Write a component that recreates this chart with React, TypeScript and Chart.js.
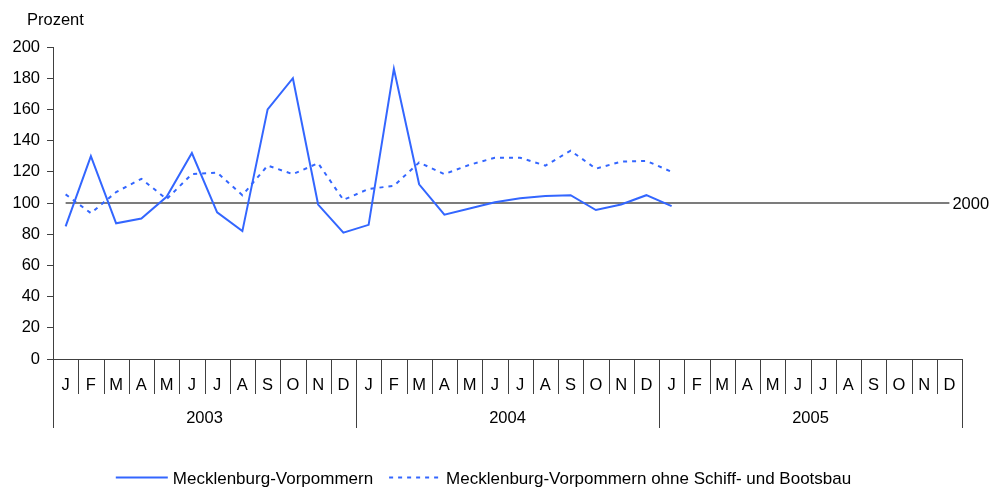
import { useEffect, useRef } from 'react';
import { Chart, registerables } from 'chart.js';

Chart.register(...registerables);

const months = ['J', 'F', 'M', 'A', 'M', 'J', 'J', 'A', 'S', 'O', 'N', 'D'];
const years = ['2003', '2004', '2005'];
const monthLabels = [...months, ...months, ...months];

const mvValues: (number | null)[] = [
  85, 130, 87, 90, 104, 132, 94, 82, 160, 180, 99, 81,
  86, 186, 112, 92.5, 96.5, 100.5, 103, 104.5, 105, 95.5, 99, 105,
  98, null, null, null, null, null, null, null, null, null, null, null,
];

const mvOhneValues: (number | null)[] = [
  105.5, 93.5, 107, 115.5, 102.5, 118.5, 119.5, 105, 124, 118.5, 125.5, 102,
  109, 111, 126, 118.5, 124.5, 129, 129, 124, 133.5, 122, 126.5, 127,
  120, null, null, null, null, null, null, null, null, null, null, null,
];

const baseValues: number[] = [
  100, 100, 100, 100, 100, 100, 100, 100, 100, 100, 100, 100,
  100, 100, 100, 100, 100, 100, 100, 100, 100, 100, 100, 100,
  100, 100, 100, 100, 100, 100, 100, 100, 100, 100, 100, 100,
];

const seriesNames = ['Mecklenburg-Vorpommern', 'Mecklenburg-Vorpommern ohne Schiff- und Bootsbau'];
const baseLabel = '2000';
const yTitle = 'Prozent';

const FONT = "'Liberation Sans', Arial, sans-serif";
const BLUE = '#3366ff';
const AXIS = '#404040';

const customPlugin = {
  id: 'customDecor',
  afterDraw(chart: any) {
    const { ctx, chartArea, scales } = chart;
    const x = scales.x;
    const y = scales.y;
    const n = monthLabels.length;
    const p0 = x.getPixelForValue(0);
    const step = x.getPixelForValue(1) - p0;
    const bottom = chartArea.bottom;
    ctx.save();
    // separators
    ctx.strokeStyle = AXIS;
    ctx.lineWidth = 1;
    for (let i = 0; i <= n; i++) {
      const px = Math.round(p0 - step / 2 + i * step) + 0.5;
      const len = i % 12 === 0 ? 69 : 35;
      ctx.beginPath();
      ctx.moveTo(px, bottom);
      ctx.lineTo(px, bottom + len);
      ctx.stroke();
    }
    // month labels
    ctx.fillStyle = '#000';
    ctx.font = `16.5px ${FONT}`;
    ctx.textAlign = 'center';
    ctx.textBaseline = 'middle';
    for (let i = 0; i < n; i++) {
      ctx.fillText(monthLabels[i], p0 + i * step, bottom + 26);
    }
    // year labels
    years.forEach((yr, k) => {
      const cx = p0 - step / 2 + (k * 12 + 6) * step;
      ctx.fillText(yr, cx, bottom + 59);
    });
    // y title
    ctx.textAlign = 'left';
    ctx.fillText(yTitle, 27, 20);
    // base label
    const lastX = x.getPixelForValue(n - 1);
    ctx.fillText(baseLabel, lastX + 3, y.getPixelForValue(100) + 1);
    // legend
    ctx.font = `17px ${FONT}`;
    const lineLen = 52;
    const gap = 5;
    const spacing = 16;
    const widths = seriesNames.map((s) => ctx.measureText(s).width);
    const total = widths.reduce((a, w) => a + lineLen + gap + w, 0) + spacing * (seriesNames.length - 1);
    let lx = chart.width / 2 - 13.5 - total / 2;
    const ly = 477.5;
    seriesNames.forEach((s, k) => {
      const ds = chart.data.datasets[k];
      ctx.strokeStyle = ds.borderColor;
      ctx.lineWidth = ds.borderWidth;
      ctx.setLineDash(ds.borderDash || []);
      ctx.beginPath();
      ctx.moveTo(lx, ly);
      ctx.lineTo(lx + lineLen, ly);
      ctx.stroke();
      ctx.setLineDash([]);
      ctx.fillStyle = '#000';
      ctx.fillText(s, lx + lineLen + gap, ly + 1.5);
      lx += lineLen + gap + widths[k] + spacing;
    });
    ctx.restore();
  },
};

export default function App() {
  const ref = useRef<HTMLCanvasElement | null>(null);
  useEffect(() => {
    if (!ref.current) return;
    Chart.defaults.font.family = FONT;
    const chart = new Chart(ref.current, {
      type: 'line',
      data: {
        labels: monthLabels,
        datasets: [
          {
            label: seriesNames[0],
            data: mvValues,
            borderColor: BLUE,
            borderWidth: 2,
            pointRadius: 0,
            tension: 0,
            order: 1,
          },
          {
            label: seriesNames[1],
            data: mvOhneValues,
            borderColor: BLUE,
            borderWidth: 2,
            borderDash: [4, 5],
            pointRadius: 0,
            tension: 0,
            order: 2,
          },
          {
            label: baseLabel,
            data: baseValues,
            borderColor: '#505050',
            borderWidth: 1.5,
            pointRadius: 0,
            tension: 0,
            order: 3,
          },
        ],
      },
      options: {
        animation: false,
        responsive: true,
        maintainAspectRatio: false,
        layout: { padding: { left: 0, right: 32, top: 47, bottom: 0 } },
        plugins: {
          legend: { display: false },
          tooltip: { enabled: false },
        },
        scales: {
          x: {
            type: 'category',
            offset: true,
            grid: { display: false },
            border: { display: true, color: AXIS, width: 1 },
            ticks: { display: false },
            afterFit: (scale: any) => {
              scale.height = 132;
            },
          },
          y: {
            min: 0,
            max: 200,
            ticks: {
              stepSize: 20,
              color: '#000',
              font: { size: 16.5, family: FONT },
              padding: 7,
            },
            grid: {
              display: true,
              drawOnChartArea: false,
              drawTicks: true,
              tickLength: 6,
              color: AXIS,
            },
            border: { display: true, color: AXIS, width: 1 },
            afterFit: (scale: any) => {
              scale.width = 53;
            },
          },
        },
      },
      plugins: [customPlugin],
    });
    return () => chart.destroy();
  }, []);
  return (
    <div style={{ position: 'fixed', left: 0, top: 0, width: 994, height: 491, background: '#fff' }}>
      <canvas ref={ref} />
    </div>
  );
}
